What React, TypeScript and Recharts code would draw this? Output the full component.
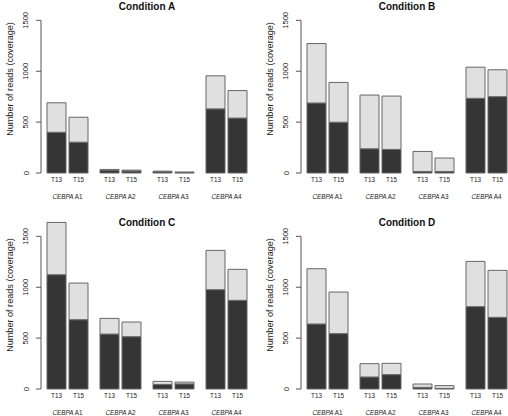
import { BarChart, Bar, XAxis, YAxis, ReferenceLine } from "recharts";

// CEBPA amplicons and time points
const groups = ["A1", "A2", "A3", "A4"];
const timepoints = ["T13", "T15"];
const yTicks = [0, 500, 1000, 1500];

// dark = lower (dark) part of the bar, total = full bar height
const condA_T13Dark = [400, 25, 12, 630];
const condA_T13Total = [690, 35, 18, 955];
const condA_T15Dark = [303, 20, 4, 540];
const condA_T15Total = [548, 28, 10, 810];

const condB_T13Dark = [688, 238, 15, 734];
const condB_T13Total = [1272, 766, 212, 1040];
const condB_T15Dark = [499, 232, 15, 750];
const condB_T15Total = [890, 756, 147, 1014];

const condC_T13Dark = [1123, 540, 45, 976];
const condC_T13Total = [1637, 694, 75, 1362];
const condC_T15Dark = [681, 514, 50, 871];
const condC_T15Total = [1041, 658, 68, 1176];

const condD_T13Dark = [639, 118, 16, 809];
const condD_T13Total = [1182, 249, 49, 1254];
const condD_T15Dark = [544, 141, 5, 704];
const condD_T15Total = [953, 252, 33, 1166];

const BAR = 19;
const GAP = 3;
const FONT = '"Liberation Sans", Arial, sans-serif';

const buildRows = (t13Dark: number[], t13Total: number[], t15Dark: number[], t15Total: number[]) =>
  groups.map((g, i) => ({
    group: g,
    t13Dark: t13Dark[i],
    t13Light: t13Total[i] - t13Dark[i],
    t15Dark: t15Dark[i],
    t15Light: t15Total[i] - t15Dark[i],
  }));

const panels = [
  { title: "Condition A", left: 0, top: 0, data: buildRows(condA_T13Dark, condA_T13Total, condA_T15Dark, condA_T15Total) },
  { title: "Condition B", left: 260, top: 0, data: buildRows(condB_T13Dark, condB_T13Total, condB_T15Dark, condB_T15Total) },
  { title: "Condition C", left: 0, top: 216, data: buildRows(condC_T13Dark, condC_T13Total, condC_T15Dark, condC_T15Total) },
  { title: "Condition D", left: 260, top: 216, data: buildRows(condD_T13Dark, condD_T13Total, condD_T15Dark, condD_T15Total) },
];

const GroupTick = (props: any) => {
  const { x, y, payload } = props;
  const off = (BAR + GAP) / 2;
  return (
    <g fill="#222" fontSize={6.3} fontFamily={FONT}>
      <text x={x - off} y={y + 9} textAnchor="middle">{timepoints[0]}</text>
      <text x={x + off} y={y + 9} textAnchor="middle">{timepoints[1]}</text>
      <text x={x} y={y + 26} textAnchor="middle">
        <tspan fontStyle="italic">CEBPA</tspan>
        <tspan>{" " + payload.value}</tspan>
      </text>
    </g>
  );
};

const YTick = (props: any) => {
  const { x, y, payload } = props;
  return (
    <text x={x} y={y} transform={`rotate(-90 ${x} ${y})`} textAnchor="middle" fill="#222" fontSize={7.6} fontFamily={FONT}>
      {payload.value}
    </text>
  );
};

// y axis title, centred a bit above the middle of the plot like the original
const YLabel = () => {
  const cx = 13;
  const cy = 79;
  return (
    <text x={cx} y={cy} transform={`rotate(-90 ${cx} ${cy})`} textAnchor="middle" fill="#222" fontSize={9.1} fontFamily={FONT}>
      Number of reads (coverage)
    </text>
  );
};

const Panel = ({ title, data, left, top }: { title: string; data: any[]; left: number; top: number }) => (
  <div style={{ position: "absolute", left, top, width: 260, height: 208 }}>
    <div
      style={{
        position: "absolute",
        left: 41,
        width: 212,
        top: 1.5,
        textAlign: "center",
        fontFamily: FONT,
        fontWeight: "bold",
        fontSize: 10,
        lineHeight: "10px",
        color: "#111",
      }}
    >
      {title}
    </div>
    <BarChart
      width={260}
      height={208}
      data={data}
      margin={{ top: 0, right: 7, bottom: 0, left: 0 }}
      barSize={BAR}
      barGap={GAP}
      barCategoryGap={6}
    >
      <XAxis dataKey="group" axisLine={false} tickLine={false} tickSize={0} tickMargin={0} height={35} interval={0} tick={GroupTick} />
      <YAxis
        domain={[0, 1700]}
        ticks={yTicks}
        width={41}
        axisLine={false}
        tickLine={{ stroke: "#555" }}
        tickSize={5}
        tickMargin={7.5}
        tick={YTick}
        label={YLabel}
      />
      <ReferenceLine segment={[{ x: groups[0], y: 0 }, { x: groups[0], y: 1500 }]} position="start" stroke="#555" />
      <Bar dataKey="t13Dark" stackId="t13" fill="#353535" stroke="#666" isAnimationActive={false} />
      <Bar dataKey="t13Light" stackId="t13" fill="#e0e0e0" stroke="#666" isAnimationActive={false} />
      <Bar dataKey="t15Dark" stackId="t15" fill="#353535" stroke="#666" isAnimationActive={false} />
      <Bar dataKey="t15Light" stackId="t15" fill="#e0e0e0" stroke="#666" isAnimationActive={false} />
    </BarChart>
  </div>
);

export default function App() {
  return (
    <div style={{ position: "absolute", left: 0, top: 0, width: 508, height: 416, overflow: "hidden", background: "#fff" }}>
      {panels.map((p) => (
        <Panel key={p.title} title={p.title} data={p.data} left={p.left} top={p.top} />
      ))}
    </div>
  );
}
